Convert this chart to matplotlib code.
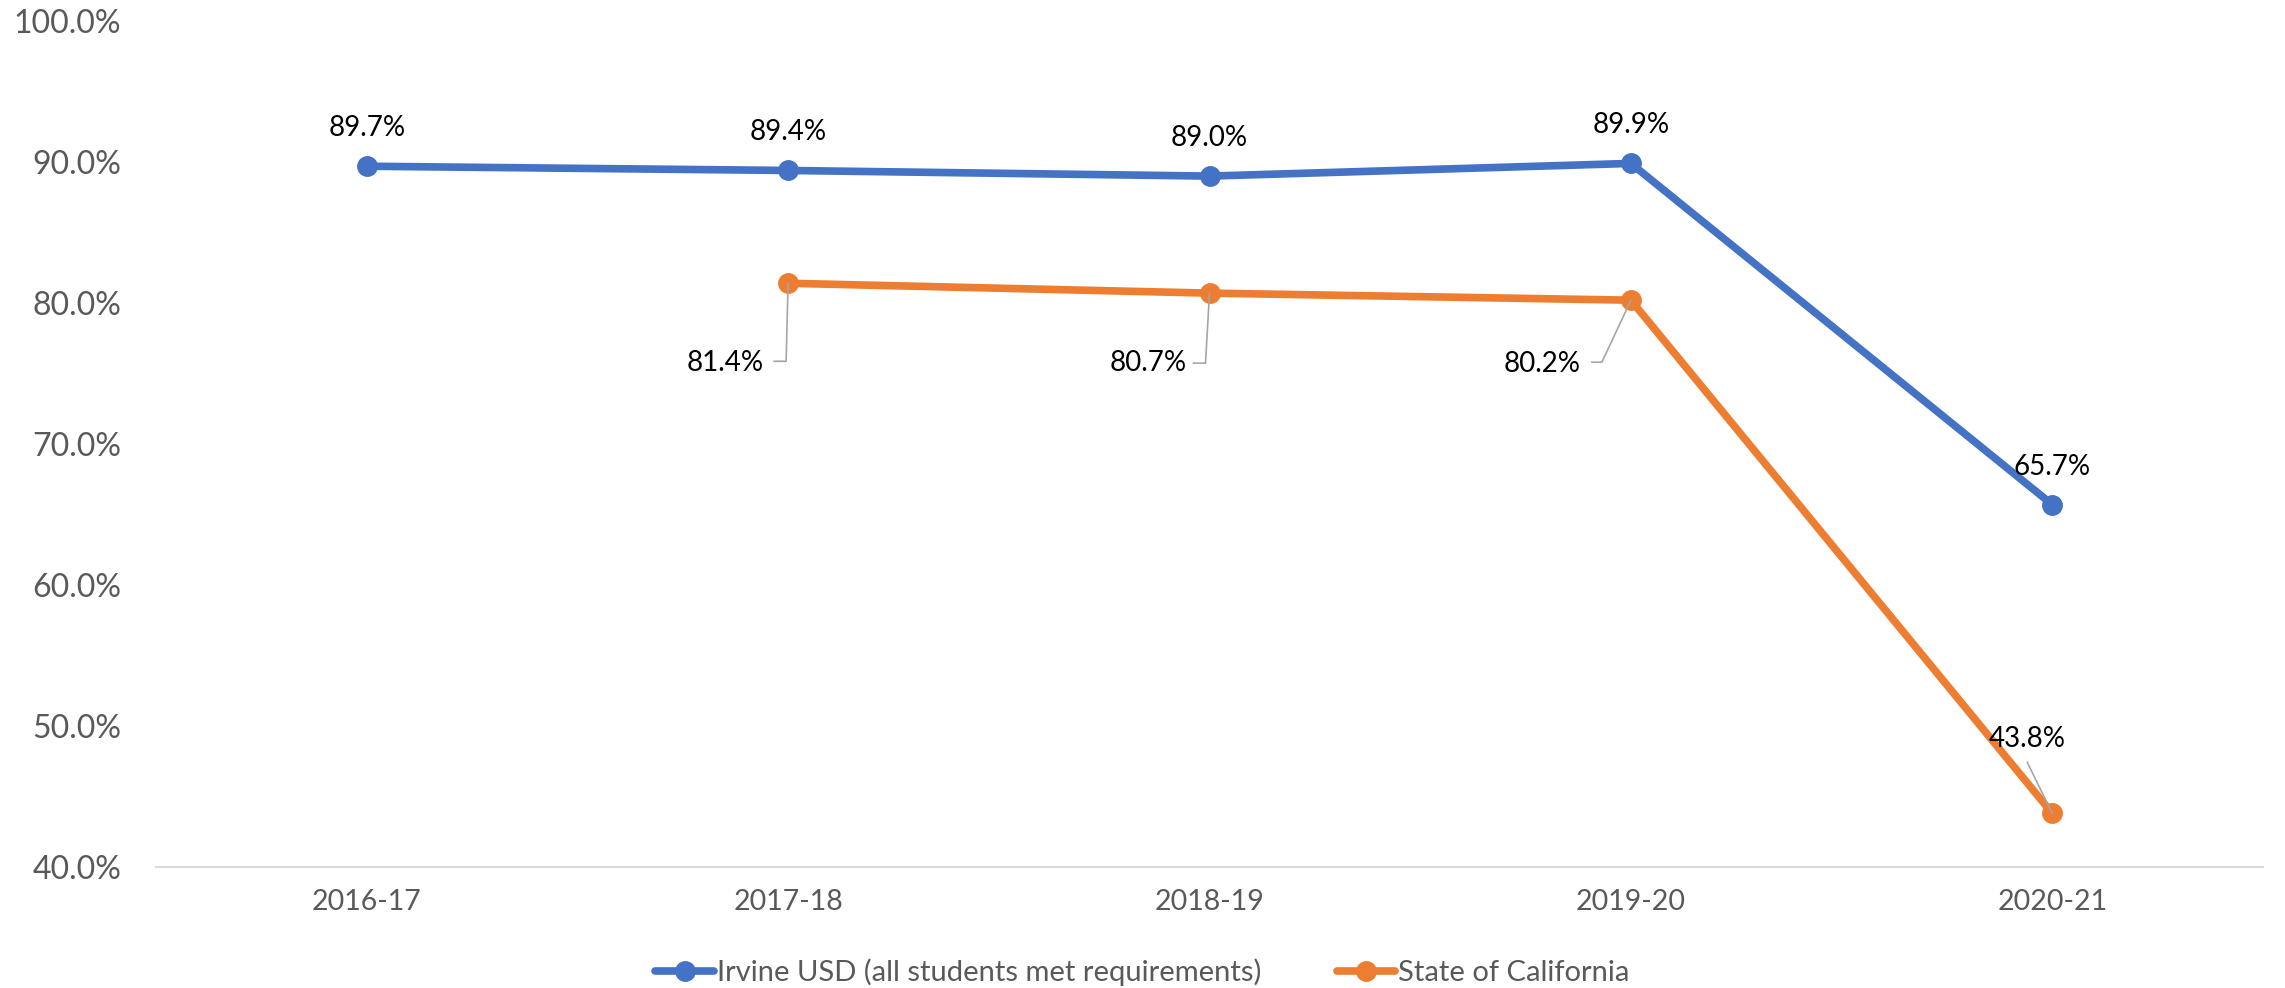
import numpy as np
import matplotlib
matplotlib.use("Agg")
import matplotlib.pyplot as plt
from matplotlib.lines import Line2D
from matplotlib.transforms import IdentityTransform

# =============================
# DATA
# =============================
YEARS = ["2016-17", "2017-18", "2018-19", "2019-20", "2020-21"]
IRVINE = [89.7, 89.4, 89.0, 89.9, 65.7]
CALIF = [np.nan, 81.4, 80.7, 80.2, 43.8]
Y_TICKS = [40, 50, 60, 70, 80, 90, 100]

BLUE = "#4472C4"
ORANGE = "#ED7D31"
GRAY_TXT = "#595959"
LEADER = "#A6A6A6"

plt.rcParams["font.family"] = ["Lato", "DejaVu Sans"]

W, H, DPI = 2285, 988, 100
fig = plt.figure(figsize=(W / DPI, H / DPI), dpi=DPI)
# axes box in pixels: x 156..2263, y 21..867 (top-down)
ax = fig.add_axes([156 / W, 1 - 867 / H, (2263 - 156) / W, (867 - 21) / H])

x = np.arange(len(YEARS))
ax.plot(x, IRVINE, color=BLUE, lw=5.5, marker="o", ms=14, solid_capstyle="round",
        label="Irvine USD (all students met requirements)", zorder=3)
ax.plot(x, CALIF, color=ORANGE, lw=5.5, marker="o", ms=14, solid_capstyle="round",
        label="State of California", zorder=3)

ax.set_xlim(-0.5, len(YEARS) - 0.5)
ax.set_ylim(40, 100)
ax.set_xticks(x)
ax.set_xticklabels(YEARS)
ax.set_yticks(Y_TICKS)
ax.set_yticklabels([f"{v:.1f}%" for v in Y_TICKS])
ax.tick_params(axis="y", length=0, pad=25, labelsize=23, labelcolor=GRAY_TXT)
ax.tick_params(axis="x", length=0, pad=16, labelsize=20.5, labelcolor=GRAY_TXT)

for s in ["top", "right", "left"]:
    ax.spines[s].set_visible(False)
ax.spines["bottom"].set_color("#D9D9D9")
ax.spines["bottom"].set_linewidth(1.5)

# -----------------------------
# data labels (offsets in px, +y = down)
# -----------------------------
PX = 0.72  # px -> pt at 100 dpi
for i, v in enumerate(IRVINE):
    ax.annotate(f"{v:.1f}%", (i, v), xytext=(0, 38 * PX), textcoords="offset points",
                ha="center", va="center", fontsize=20, color="black", zorder=5)

calif_offsets = {1: (-63, 80), 2: (-61, 70), 3: (-89, 64), 4: (-25, -74)}
calif_leaders = {
    1: [(0, 0), (-2, 78), (-14, 78)],
    2: [(0, 0), (-4, 70), (-16, 70)],
    3: [(0, 0), (-29, 62), (-39, 62)],
    4: [(0, 0), (-25, -51)],
}
for i, v in enumerate(CALIF):
    if np.isnan(v):
        continue
    dx, dy = calif_offsets[i]
    ax.annotate(f"{v:.1f}%", (i, v), xytext=(dx * PX, -dy * PX), textcoords="offset points",
                ha="center", va="center", fontsize=20, color="black", zorder=5)
    px, py = ax.transData.transform((i, v))
    pts = calif_leaders[i]
    xs = [px + a for a, b in pts]
    ys = [py - b for a, b in pts]
    fig.add_artist(Line2D(xs, ys, transform=IdentityTransform(), color=LEADER, lw=1.2, zorder=6))

leg = fig.legend(loc="center", bbox_to_anchor=(0.5, 1 - 972 / H), ncol=2, frameon=False,
                 fontsize=21, handlelength=2.0, handletextpad=0.1, columnspacing=2.6,
                 borderpad=0)
for t in leg.get_texts():
    t.set_color(GRAY_TXT)

fig.savefig("out.png", dpi=DPI)
